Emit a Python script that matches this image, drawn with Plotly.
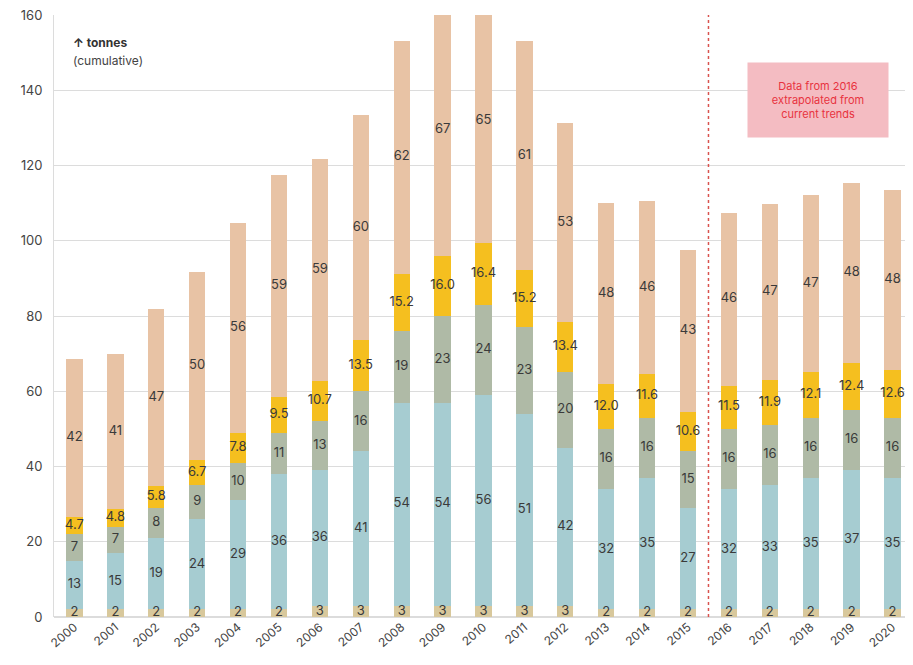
import plotly.graph_objects as go

years = [str(y) for y in range(2000, 2021)]
seg_base = [2, 2, 2, 2, 2, 2, 3, 3, 3, 3, 3, 3, 3, 2, 2, 2, 2, 2, 2, 2, 2]
seg_teal = [13, 15, 19, 24, 29, 36, 36, 41, 54, 54, 56, 51, 42, 32, 35, 27, 32, 33, 35, 37, 35]
seg_green = [7, 7, 8, 9, 10, 11, 13, 16, 19, 23, 24, 23, 20, 16, 16, 15, 16, 16, 16, 16, 16]
seg_yellow = [4.7, 4.8, 5.8, 6.7, 7.8, 9.5, 10.7, 13.5, 15.2, 16.0, 16.4, 15.2, 13.4, 12.0, 11.6, 10.6, 11.5, 11.9, 12.1, 12.4, 12.6]
seg_peach = [42, 41, 47, 50, 56, 59, 59, 60, 62, 67, 65, 61, 53, 48, 46, 43, 46, 47, 47, 48, 48]

series = [
    (seg_base, "#d8c89c", "{:.0f}"),
    (seg_teal, "#a6ccd1", "{:.0f}"),
    (seg_green, "#afbaa6", "{:.0f}"),
    (seg_yellow, "#f5bf1f", "{:.1f}"),
    (seg_peach, "#e8c3a5", "{:.0f}"),
]

fig = go.Figure()
cum = [0.0] * len(years)
label_x, label_y, label_t = [], [], []
for vals, color, fmt in series:
    fig.add_trace(go.Bar(x=years, y=vals, marker=dict(color=color, line=dict(width=0)),
                         width=0.4, showlegend=False, hoverinfo="skip"))
    for i, v in enumerate(vals):
        label_x.append(years[i])
        label_y.append(cum[i] + v / 2)
        label_t.append(fmt.format(v))
        cum[i] += v

fig.add_trace(go.Scatter(x=label_x, y=label_y, text=label_t, mode="text",
                         textfont=dict(family="Inter, sans-serif", size=13, color="#3a3a3a"),
                         showlegend=False, hoverinfo="skip", cliponaxis=False))

fig.add_shape(type="line", xref="x", yref="y", x0=15.5, x1=15.5, y0=0, y1=160,
              line=dict(color="#d9534f", width=1.5, dash="dot"))

fig.add_annotation(xref="x", yref="y", x=18.18, y=137.5, text="Data from 2016<br>extrapolated from<br>current trends",
                   showarrow=False, bgcolor="#f4bcc2", width=138, height=72,
                   font=dict(family="Inter, sans-serif", size=11, color="#e8333f"), align="center")

fig.add_annotation(xref="paper", yref="paper", x=0.02, y=0.955, xanchor="left", yanchor="middle",
                   text="<b>↑ tonnes</b>", showarrow=False,
                   font=dict(family="Inter, sans-serif", size=12, color="#333"))
fig.add_annotation(xref="paper", yref="paper", x=0.02, y=0.924, xanchor="left", yanchor="middle",
                   text="(cumulative)", showarrow=False,
                   font=dict(family="Inter, sans-serif", size=12, color="#444"))

fig.update_layout(
    barmode="stack",
    width=905, height=657,
    margin=dict(l=46, r=0, t=7, b=48),
    plot_bgcolor="white", paper_bgcolor="white",
    font=dict(family="Inter, sans-serif", size=12, color="#555"),
    xaxis=dict(type="category", tickangle=-40, showgrid=False, ticks="",
               tickfont=dict(size=12, color="#444"), range=[-0.5, 20.5]),
    yaxis=dict(range=[0, 160], dtick=20, showgrid=True, gridcolor="#dcdcdc", gridwidth=1,
               zeroline=True, zerolinecolor="#dcdcdc", showline=True, linecolor="#dcdcdc",
               tickfont=dict(size=13, color="#444"), ticks="", ticklabelstandoff=8,
               ticklabeloverflow="allow"),
)

fig.write_html("out.html")
